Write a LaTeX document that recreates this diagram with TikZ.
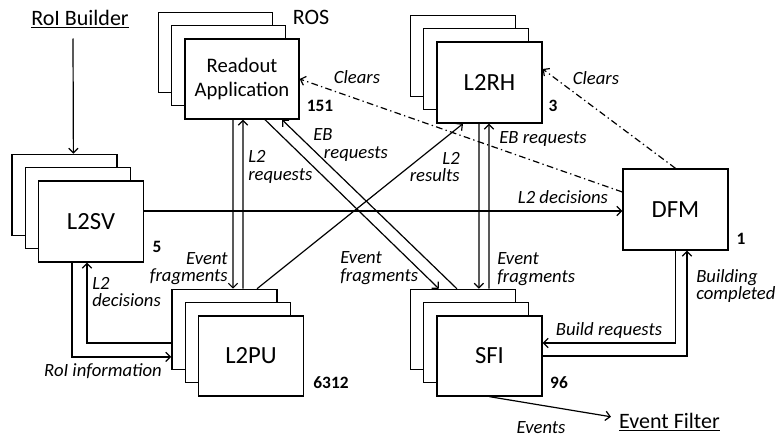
\documentclass[tikz,border=0pt]{standalone}
\usepackage{fontspec}
\setmainfont{Carlito}
\usetikzlibrary{arrows.meta, calc, positioning}
\tikzset{
    box/.style={draw, fill=white, line width=1pt, minimum width=78.75pt, minimum height=60.75pt, inner sep=0pt, font=\fontsize{18.5}{20}\selectfont},
    arr/.style={-{Straight Barb[length=3.5pt, width=7pt]}, line width=0.9pt},
    clr/.style={arr, dash pattern=on 5pt off 2.5pt on 1pt off 2.5pt},
    msg/.style={font=\fontsize{14}{13}\selectfont\itshape, inner sep=0pt},
    cnt/.style={font=\fontsize{13}{14}\selectfont\bfseries, inner sep=0pt, anchor=base},
    ext/.style={font=\fontsize{16.5}{18}\selectfont, inner sep=0pt, anchor=base}
}

\begin{document}
\begin{tikzpicture}[x=0.75pt, y=-0.75pt]
        \useasboundingbox (0,0) rectangle (776,439);
        % stacked boxes
        \foreach \i in {2,1}
            \node[box] (l2sv\i) at ({91-13.3*\i},{221.5-13.3*\i}) {};
        \node[box] (l2sv) at (91,221.5) {L2SV};
        \foreach \i in {2,1}
            \node[box, minimum width=85.5pt, minimum height=60pt] (ros\i) at ({242-13.3*\i},{79-13.3*\i}) {};
        \node[box, minimum width=85.5pt, minimum height=60pt, align=center, font=\fontsize{15.5}{18}\selectfont] (ros) at (242,79) {Readout\\Application};
        \foreach \i in {2,1}
            \node[box] (l2rh\i) at ({489.5-13.3*\i},{82.5-13.3*\i}) {};
        \node[box] (l2rh) at (489.5,82.5) {L2RH};
        \foreach \i in {2,1}
            \node[box, minimum height=60pt] (l2pu\i) at ({251-13.3*\i},{356-13.3*\i}) {};
        \node[box, minimum height=60pt] (l2pu) at (251,356) {L2PU};
        \foreach \i in {2,1}
            \node[box, minimum height=60pt] (sfi\i) at ({489.5-13.3*\i},{356-13.3*\i}) {};
        \node[box, minimum height=60pt] (sfi) at (489.5,356) {SFI};
        \node[box] (dfm) at (675.5,209.5) {DFM};
        % counts
        \node[cnt] (n-ros) at (320,111) {151};
        \node[cnt] (n-l2rh) at (553,111) {3};
        \node[cnt] (n-l2sv) at (157,252) {5};
        \node[cnt] (n-dfm) at (741,244) {1};
        \node[cnt] (n-l2pu) at (331,388) {6312};
        \node[cnt] (n-sfi) at (559,388) {96};
        % outside
        \node[ext] (rob) at (80,25.5) {\underline{RoI Builder}};
        \node[ext] (ros-lbl) at (311,25) {ROS};
        \node[ext] (ef) at (669.5,428) {\underline{Event Filter}};
        % connectors
        \draw[arr] ($(rob.base)+(-7,13)$) -- ($(l2sv2.north)+(9,0)$);
        \draw[arr] ($(l2sv.east)+(0,-10.5)$) -- ($(dfm.west)+(0,1.5)$);
        \draw[arr] ($(l2sv.south)+(-19,0)$) |- ($(l2pu2.west)+(0,27.5)$);
        \draw[arr] ($(l2pu2.west)+(0,13.6)$) -| ($(l2sv.south)+(-4,0)$);
        \draw[arr] ($(ros.south)+(-9,0)$) -- ($(l2pu2.north)+(8.6,0)$);
        \draw[arr] ($(l2pu2.north)+(18.6,0)$) -- ($(ros.south)+(1,0)$);
        \draw[arr] ($(ros.south)+(23,0)$) -- ($(sfi2.north)+(-24,0)$);
        \draw[arr] ($(sfi2.north)+(-6,0)$) -- ($(ros.south)+(40,0)$);
        \draw[arr] ($(l2pu2.north)+(32.6,0)$) -- ($(l2rh.south)+(-26.5,0)$);
        \draw[arr] ($(l2rh.south)+(-10.5,0)$) -- ($(sfi2.north)+(16,0)$);
        \draw[arr] ($(sfi2.north)+(26,0)$) -- ($(l2rh.south)+(-0.5,0)$);
        \draw[arr] (dfm.south) |- ($(sfi.east)+(0,-13)$);
        \draw[arr] (sfi.east) -| ($(dfm.south)+(11.5,0)$);
        \draw[clr] ($(dfm.west)+(0,-17.5)$) -- (ros.east);
        \draw[clr] (dfm.north) -- ($(l2rh.east)+(0,-13.5)$);
        \draw[arr] (sfi.south) -- ($(ef.west)+(-8,-5)$);
        % labels
        \node[msg, anchor=base] (m-dec) at (563,203) {L2 decisions};
        \node[msg, anchor=base] (m-roi) at (103,376) {RoI information};
        \node[msg, anchor=west, align=left] (m-dec2) at (92,292) {L2\\decisions};
        \node[msg, anchor=west, align=left] (m-req) at (248,167) {L2\\requests};
        \node[msg, anchor=east, align=right] (m-frag1) at (228,268.5) {Event\\fragments};
        \node[msg, anchor=west, align=left] (m-eb1) at (313,145) {EB\\\hspace*{8pt}requests};
        \node[msg, anchor=west, align=left] (m-frag2) at (340,268) {Event\\fragments};
        \node[msg, anchor=east, align=right] (m-res) at (460,167) {L2\\results};
        \node[msg, anchor=base west] (m-eb2) at (499,143) {EB requests};
        \node[msg, anchor=west, align=left] (m-frag3) at (497,269) {Event\\fragments};
        \node[msg, anchor=base] (m-clr1) at (357,83.5) {Clears};
        \node[msg, anchor=base] (m-clr2) at (596,84.5) {Clears};
        \node[msg, anchor=base] (m-build) at (609,335) {Build requests};
        \node[msg, anchor=west, align=left] (m-done) at (696,286) {Building\\completed};
        \node[msg, anchor=base] (m-ev) at (541,433.5) {Events};
\end{tikzpicture}
\end{document}
